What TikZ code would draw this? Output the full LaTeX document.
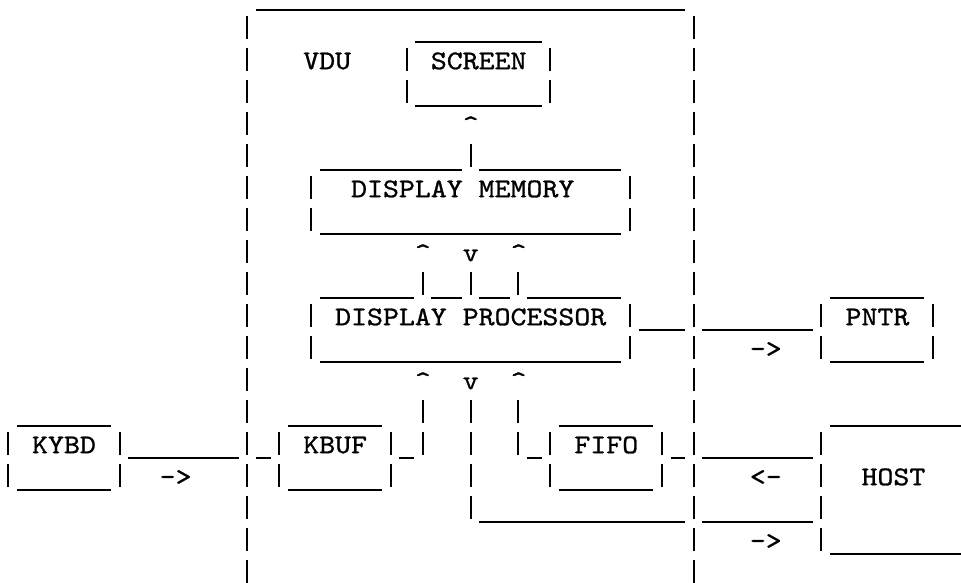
\documentclass[tikz,border=0pt]{standalone}
\usepackage{fontspec}
\newfontfamily\typewriter{lmmono10-regular}[Extension=.otf, FakeStretch=1.125, FakeBold=1]
\begin{document}
\begin{tikzpicture}[x=15.95pt, y=-32pt,
  ch/.style={font=\typewriter\fontsize{27}{32}\selectfont, inner sep=0pt, anchor=base west},
  rule/.style={line width=1.7pt},
  post/.style={line width=2pt}]
\useasboundingbox (0,0.6875) rectangle (60.25,18.906);
\foreach \r/\a/\b in {0/16/42, 1/26/33, 3/26/33, 5/20/28, 5/30/38, 7/20/38,
  9/20/25, 9/27/28, 9/30/31, 9/33/38, 9/52/57, 10/40/42, 10/44/50, 11/20/38,
  11/52/57, 13/1/6, 13/18/23, 13/35/40, 13/52/60, 14/8/14, 14/16/16, 14/25/25,
  14/33/33, 14/42/42, 14/44/50, 15/1/6, 15/18/23, 15/35/40, 16/30/42, 16/44/50,
  17/52/60}
  \draw[rule] (\a+0.04,\r+1) -- (\b+0.96,\r+1);
\foreach \r in {1,...,18}
  \foreach \c in {15,43}
    \draw[post] (\c+0.5,\r+0.2) -- (\c+0.5,\r+0.92);
\foreach \c/\r in {25/2, 25/3, 34/2, 34/3, 29/5, 19/6, 19/7, 39/6, 39/7,
  26/9, 29/9, 32/9, 19/10, 19/11, 39/10, 39/11, 51/10, 51/11, 58/10, 58/11,
  26/13, 26/14, 29/13, 29/14, 29/15, 29/16, 32/13, 32/14, 0/14, 0/15, 7/14,
  7/15, 17/14, 17/15, 24/14, 24/15, 34/14, 34/15, 41/14, 41/15, 51/14, 51/15,
  51/16, 51/17}
  \draw[post] (\c+0.5,\r+0.2) -- (\c+0.5,\r+0.92);
\node[ch] (vdu) at (19,2.85) {VDU};
\node[ch] (screen) at (27,2.85) {SCREEN};
\node[ch] (up1) at (29,4.85) {\textasciicircum};
\node[ch] (dmem) at (22,6.85) {DISPLAY MEMORY};
\node[ch] (up2) at (26,8.85) {\textasciicircum};
\node[ch] (dn1) at (29,8.85) {v};
\node[ch] (up3) at (32,8.85) {\textasciicircum};
\node[ch] (dproc) at (21,10.85) {DISPLAY PROCESSOR};
\node[ch] (pntr) at (53,10.85) {PNTR};
\node[ch] (toprn) at (47,11.85) {->};
\node[ch] (up4) at (26,12.85) {\textasciicircum};
\node[ch] (dn2) at (29,12.85) {v};
\node[ch] (up5) at (32,12.85) {\textasciicircum};
\node[ch] (kybd) at (2,14.85) {KYBD};
\node[ch] (kbuf) at (19,14.85) {KBUF};
\node[ch] (fifo) at (36,14.85) {FIFO};
\node[ch] (tovdu) at (10,15.85) {->};
\node[ch] (fromhost) at (47,15.85) {<-};
\node[ch] (host) at (54,15.85) {HOST};
\node[ch] (tohost) at (47,17.85) {->};
\end{tikzpicture}
\end{document}
